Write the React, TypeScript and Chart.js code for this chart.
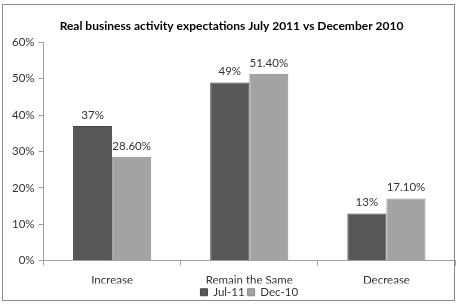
import React, { useEffect, useRef } from "react";
import { Chart, registerables } from "chart.js";

Chart.register(...registerables);

const categories = ["Increase", "Remain the Same", "Decrease"];
const jul11 = [37, 49, 13];
const dec10 = [28.6, 51.4, 17.1];
const jul11Labels = ["37%", "49%", "13%"];
const dec10Labels = ["28.60%", "51.40%", "17.10%"];
const seriesNames = ["Jul-11", "Dec-10"];
const titleText = "Real business activity expectations July 2011 vs December 2010";

const FONT = "Lato, 'Open Sans', sans-serif";

const dataLabelPlugin = {
  id: "dataLabels",
  afterDatasetsDraw(chart: any) {
    const ctx = chart.ctx;
    const labelSets = [jul11Labels, dec10Labels];
    ctx.save();
    ctx.font = `11.5px ${FONT}`;
    ctx.fillStyle = "#333";
    ctx.textAlign = "center";
    ctx.textBaseline = "bottom";
    chart.data.datasets.forEach((_ds: any, di: number) => {
      const meta = chart.getDatasetMeta(di);
      meta.data.forEach((bar: any, i: number) => {
        ctx.fillText(labelSets[di][i], bar.x, bar.y - 5);
      });
    });
    ctx.restore();
  },
};

export default function App() {
  const ref = useRef<HTMLCanvasElement>(null);
  useEffect(() => {
    const chart = new Chart(ref.current!, {
      type: "bar",
      data: {
        labels: categories,
        datasets: [
          {
            label: seriesNames[0],
            data: jul11,
            backgroundColor: "#575757",
            borderColor: "#444444",
            borderWidth: 1,
            categoryPercentage: 0.57,
            barPercentage: 1,
          },
          {
            label: seriesNames[1],
            data: dec10,
            backgroundColor: "#a3a3a3",
            borderColor: "#8a8a8a",
            borderWidth: 1,
            categoryPercentage: 0.57,
            barPercentage: 1,
          },
        ],
      },
      options: {
        animation: false,
        responsive: false,
        maintainAspectRatio: false,
        layout: { padding: { left: 8, right: 3, top: 0, bottom: -4 } },
        plugins: {
          title: {
            display: true,
            text: titleText,
            color: "#000",
            font: { family: FONT, size: 12, weight: "bold" },
            padding: { top: 19, bottom: 9 },
          },
          legend: {
            position: "bottom",
            fullSize: false,
            labels: {
              color: "#333",
              font: { family: FONT, size: 11.5 },
              usePointStyle: true,
              pointStyle: "rect",
              boxWidth: 7,
              boxHeight: 7,
              padding: 3,
            },
          },
          tooltip: { enabled: false },
        },
        scales: {
          x: {
            afterFit: (scale: any) => {
              scale.height -= 12;
            },
            grid: {
              drawOnChartArea: false,
              drawTicks: true,
              tickLength: 5,
              color: "#a0a0a0",
            },
            border: { color: "#a0a0a0" },
            ticks: { color: "#333", font: { family: FONT, size: 11.5 }, padding: 8 },
          },
          y: {
            min: 0,
            max: 60,
            grid: {
              drawOnChartArea: false,
              drawTicks: true,
              tickLength: 5,
              color: "#a0a0a0",
            },
            border: { color: "#a0a0a0" },
            ticks: {
              stepSize: 10,
              color: "#333",
              font: { family: FONT, size: 11.5 },
              padding: 4,
              callback: (v: any) => v + "%",
            },
          },
        },
      },
      plugins: [dataLabelPlugin],
    });
    return () => chart.destroy();
  }, []);
  return (
    <div style={{ position: "fixed", left: 0, top: 0, width: 458, height: 304, background: "#fff" }}>
      <div
        style={{
          position: "absolute",
          left: 2,
          top: 4,
          width: 453,
          height: 297,
          border: "1px solid #8a8a8a",
          boxSizing: "border-box",
        }}
      />
      <canvas ref={ref} width={458} height={304} style={{ position: "absolute", left: 0, top: 0 }} />
    </div>
  );
}
